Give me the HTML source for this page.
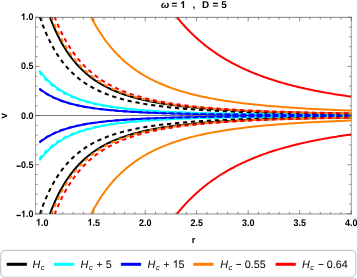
<!DOCTYPE html>
<html><head><meta charset="utf-8"><style>
html,body{margin:0;padding:0;background:#fff;}
svg{display:block;will-change:transform;}
text{text-rendering:geometricPrecision;font-family:"Liberation Sans",sans-serif;fill:#000;}
.tl{font-size:9px;font-weight:bold;}
.tt{font-size:9.3px;font-weight:bold;}
.lg{font-size:10.8px;fill:#000;}
</style></head><body>
<svg width="357" height="278" viewBox="0 0 357 278">
<rect x="0" y="0" width="357" height="278" fill="#ffffff"/>
<line x1="35.5" y1="115.5" x2="351.35" y2="115.5" stroke="#787878" stroke-width="1"/>
<g stroke-linecap="butt" stroke-linejoin="round">
<path d="M49.96 17.30L50.15 17.79L50.48 18.67L50.92 19.80L51.43 21.11L52.02 22.57L52.67 24.15L53.37 25.83L54.12 27.59L54.93 29.41L55.78 31.28L56.67 33.18L57.60 35.12L58.58 37.07L59.59 39.04L60.64 41.01L61.73 42.97L62.85 44.92L64.00 46.86L65.19 48.79L66.40 50.68L67.65 52.56L68.93 54.40L70.24 56.21L71.58 57.99L72.94 59.74L74.33 61.44L75.75 63.11L77.20 64.75L78.67 66.34L80.17 67.89L81.69 69.40L83.24 70.87L84.81 72.30L86.41 73.69L88.03 75.05L89.67 76.36L91.33 77.63L93.02 78.87L94.73 80.06L96.47 81.22L98.22 82.35L100.00 83.44L101.79 84.49L103.61 85.51L105.45 86.49L107.31 87.45L109.19 88.37L111.09 89.26L113.01 90.12L114.95 90.96L116.91 91.76L118.89 92.54L120.89 93.29L122.91 94.01L124.94 94.71L127.00 95.39L129.07 96.04L131.16 96.67L133.27 97.28L135.39 97.87L137.54 98.44L139.70 98.99L141.88 99.51L144.08 100.02L146.29 100.52L148.52 100.99L150.77 101.45L153.04 101.90L155.32 102.32L157.62 102.74L159.93 103.14L162.26 103.52L164.61 103.89L166.98 104.25L169.36 104.60L171.75 104.93L174.16 105.26L176.59 105.57L179.03 105.87L181.49 106.16L183.97 106.45L186.46 106.72L188.96 106.98L191.48 107.23L194.01 107.48L196.56 107.72L199.13 107.95L201.71 108.17L204.30 108.38L206.91 108.59L209.53 108.79L212.17 108.99L214.82 109.17L217.49 109.35L220.17 109.53L222.86 109.70L225.57 109.86L228.29 110.02L231.03 110.18L233.78 110.33L236.54 110.47L239.32 110.61L242.11 110.75L244.92 110.88L247.74 111.00L250.57 111.13L253.42 111.25L256.27 111.36L259.15 111.47L262.03 111.58L264.93 111.69L267.84 111.79L270.77 111.89L273.70 111.98L276.65 112.08L279.62 112.17L282.59 112.25L285.58 112.34L288.58 112.42L291.60 112.50L294.62 112.58L297.66 112.65L300.71 112.72L303.78 112.79L306.86 112.86L309.94 112.93L313.05 112.99L316.16 113.06L319.28 113.12L322.42 113.18L325.57 113.24L328.73 113.29L331.91 113.35L335.09 113.40L338.29 113.45L341.50 113.50L344.72 113.55L347.96 113.60L351.20 113.64" stroke="#000000" stroke-width="2.0" fill="none"/>
<path d="M49.96 213.80L50.15 213.31L50.48 212.43L50.92 211.30L51.43 209.99L52.02 208.53L52.67 206.95L53.37 205.27L54.12 203.51L54.93 201.69L55.78 199.82L56.67 197.92L57.60 195.98L58.58 194.03L59.59 192.06L60.64 190.09L61.73 188.13L62.85 186.18L64.00 184.24L65.19 182.31L66.40 180.42L67.65 178.54L68.93 176.70L70.24 174.89L71.58 173.11L72.94 171.36L74.33 169.66L75.75 167.99L77.20 166.35L78.67 164.76L80.17 163.21L81.69 161.70L83.24 160.23L84.81 158.80L86.41 157.41L88.03 156.05L89.67 154.74L91.33 153.47L93.02 152.23L94.73 151.04L96.47 149.88L98.22 148.75L100.00 147.66L101.79 146.61L103.61 145.59L105.45 144.61L107.31 143.65L109.19 142.73L111.09 141.84L113.01 140.98L114.95 140.14L116.91 139.34L118.89 138.56L120.89 137.81L122.91 137.09L124.94 136.39L127.00 135.71L129.07 135.06L131.16 134.43L133.27 133.82L135.39 133.23L137.54 132.66L139.70 132.11L141.88 131.59L144.08 131.08L146.29 130.58L148.52 130.11L150.77 129.65L153.04 129.20L155.32 128.78L157.62 128.36L159.93 127.96L162.26 127.58L164.61 127.21L166.98 126.85L169.36 126.50L171.75 126.17L174.16 125.84L176.59 125.53L179.03 125.23L181.49 124.94L183.97 124.65L186.46 124.38L188.96 124.12L191.48 123.87L194.01 123.62L196.56 123.38L199.13 123.15L201.71 122.93L204.30 122.72L206.91 122.51L209.53 122.31L212.17 122.11L214.82 121.93L217.49 121.75L220.17 121.57L222.86 121.40L225.57 121.24L228.29 121.08L231.03 120.92L233.78 120.77L236.54 120.63L239.32 120.49L242.11 120.35L244.92 120.22L247.74 120.10L250.57 119.97L253.42 119.85L256.27 119.74L259.15 119.63L262.03 119.52L264.93 119.41L267.84 119.31L270.77 119.21L273.70 119.12L276.65 119.02L279.62 118.93L282.59 118.85L285.58 118.76L288.58 118.68L291.60 118.60L294.62 118.52L297.66 118.45L300.71 118.38L303.78 118.31L306.86 118.24L309.94 118.17L313.05 118.11L316.16 118.04L319.28 117.98L322.42 117.92L325.57 117.86L328.73 117.81L331.91 117.75L335.09 117.70L338.29 117.65L341.50 117.60L344.72 117.55L347.96 117.50L351.20 117.46" stroke="#000000" stroke-width="2.0" fill="none"/>
<path d="M39.42 70.67L39.61 70.92L39.96 71.38L40.41 71.97L40.94 72.65L41.55 73.41L42.22 74.22L42.94 75.08L43.72 75.99L44.56 76.92L45.44 77.87L46.36 78.83L47.33 79.81L48.34 80.79L49.38 81.78L50.47 82.76L51.60 83.73L52.75 84.69L53.95 85.65L55.18 86.59L56.44 87.51L57.73 88.42L59.05 89.31L60.40 90.18L61.79 91.03L63.20 91.85L64.64 92.66L66.11 93.45L67.61 94.21L69.13 94.95L70.68 95.67L72.26 96.37L73.86 97.05L75.49 97.70L77.14 98.33L78.81 98.95L80.51 99.54L82.24 100.11L83.98 100.66L85.76 101.20L87.55 101.71L89.37 102.21L91.20 102.69L93.06 103.15L94.95 103.59L96.85 104.02L98.77 104.43L100.72 104.83L102.69 105.21L104.68 105.58L106.68 105.93L108.71 106.27L110.76 106.60L112.83 106.92L114.91 107.22L117.02 107.51L119.15 107.80L121.29 108.07L123.46 108.33L125.64 108.58L127.84 108.82L130.06 109.05L132.30 109.27L134.55 109.49L136.83 109.70L139.12 109.90L141.43 110.09L143.76 110.27L146.10 110.45L148.46 110.62L150.84 110.78L153.24 110.94L155.65 111.09L158.08 111.24L160.53 111.38L162.99 111.52L165.47 111.65L167.97 111.78L170.48 111.90L173.01 112.02L175.55 112.13L178.11 112.24L180.69 112.34L183.28 112.44L185.89 112.54L188.51 112.63L191.15 112.73L193.80 112.81L196.47 112.90L199.16 112.98L201.86 113.06L204.57 113.13L207.30 113.21L210.05 113.28L212.81 113.34L215.58 113.41L218.37 113.47L221.17 113.53L223.99 113.59L226.82 113.65L229.67 113.71L232.53 113.76L235.41 113.81L238.30 113.86L241.20 113.91L244.12 113.96L247.05 114.00L249.99 114.04L252.95 114.09L255.92 114.13L258.91 114.17L261.91 114.21L264.92 114.24L267.95 114.28L270.99 114.31L274.04 114.35L277.11 114.38L280.19 114.41L283.28 114.44L286.39 114.47L289.51 114.50L292.64 114.53L295.79 114.55L298.95 114.58L302.12 114.60L305.30 114.63L308.50 114.65L311.71 114.68L314.93 114.70L318.17 114.72L321.41 114.74L324.67 114.76L327.95 114.78L331.23 114.80L334.53 114.82L337.84 114.84L341.16 114.85L344.50 114.87L347.84 114.89L351.20 114.90" stroke="#00ffff" stroke-width="2.0" fill="none"/>
<path d="M39.42 160.43L39.61 160.18L39.96 159.72L40.41 159.13L40.94 158.45L41.55 157.69L42.22 156.88L42.94 156.02L43.72 155.11L44.56 154.18L45.44 153.23L46.36 152.27L47.33 151.29L48.34 150.31L49.38 149.32L50.47 148.34L51.60 147.37L52.75 146.41L53.95 145.45L55.18 144.51L56.44 143.59L57.73 142.68L59.05 141.79L60.40 140.92L61.79 140.07L63.20 139.25L64.64 138.44L66.11 137.65L67.61 136.89L69.13 136.15L70.68 135.43L72.26 134.73L73.86 134.05L75.49 133.40L77.14 132.77L78.81 132.15L80.51 131.56L82.24 130.99L83.98 130.44L85.76 129.90L87.55 129.39L89.37 128.89L91.20 128.41L93.06 127.95L94.95 127.51L96.85 127.08L98.77 126.67L100.72 126.27L102.69 125.89L104.68 125.52L106.68 125.17L108.71 124.83L110.76 124.50L112.83 124.18L114.91 123.88L117.02 123.59L119.15 123.30L121.29 123.03L123.46 122.77L125.64 122.52L127.84 122.28L130.06 122.05L132.30 121.83L134.55 121.61L136.83 121.40L139.12 121.20L141.43 121.01L143.76 120.83L146.10 120.65L148.46 120.48L150.84 120.32L153.24 120.16L155.65 120.01L158.08 119.86L160.53 119.72L162.99 119.58L165.47 119.45L167.97 119.32L170.48 119.20L173.01 119.08L175.55 118.97L178.11 118.86L180.69 118.76L183.28 118.66L185.89 118.56L188.51 118.47L191.15 118.37L193.80 118.29L196.47 118.20L199.16 118.12L201.86 118.04L204.57 117.97L207.30 117.89L210.05 117.82L212.81 117.76L215.58 117.69L218.37 117.63L221.17 117.57L223.99 117.51L226.82 117.45L229.67 117.39L232.53 117.34L235.41 117.29L238.30 117.24L241.20 117.19L244.12 117.14L247.05 117.10L249.99 117.06L252.95 117.01L255.92 116.97L258.91 116.93L261.91 116.89L264.92 116.86L267.95 116.82L270.99 116.79L274.04 116.75L277.11 116.72L280.19 116.69L283.28 116.66L286.39 116.63L289.51 116.60L292.64 116.57L295.79 116.55L298.95 116.52L302.12 116.50L305.30 116.47L308.50 116.45L311.71 116.42L314.93 116.40L318.17 116.38L321.41 116.36L324.67 116.34L327.95 116.32L331.23 116.30L334.53 116.28L337.84 116.26L341.16 116.25L344.50 116.23L347.84 116.21L351.20 116.20" stroke="#00ffff" stroke-width="2.0" fill="none"/>
<path d="M39.42 88.59L39.61 88.74L39.96 89.02L40.41 89.37L40.94 89.78L41.55 90.23L42.22 90.72L42.94 91.24L43.72 91.78L44.56 92.34L45.44 92.91L46.36 93.49L47.33 94.08L48.34 94.67L49.38 95.26L50.47 95.85L51.60 96.43L52.75 97.01L53.95 97.59L55.18 98.15L56.44 98.71L57.73 99.25L59.05 99.78L60.40 100.31L61.79 100.82L63.20 101.31L64.64 101.80L66.11 102.27L67.61 102.73L69.13 103.18L70.68 103.61L72.26 104.03L73.86 104.43L75.49 104.83L77.14 105.21L78.81 105.58L80.51 105.93L82.24 106.28L83.98 106.61L85.76 106.93L87.55 107.24L89.37 107.53L91.20 107.82L93.06 108.10L94.95 108.37L96.85 108.62L98.77 108.87L100.72 109.11L102.69 109.34L104.68 109.56L106.68 109.77L108.71 109.98L110.76 110.17L112.83 110.36L114.91 110.55L117.02 110.72L119.15 110.89L121.29 111.05L123.46 111.21L125.64 111.36L127.84 111.51L130.06 111.65L132.30 111.78L134.55 111.91L136.83 112.03L139.12 112.15L141.43 112.27L143.76 112.38L146.10 112.49L148.46 112.59L150.84 112.69L153.24 112.78L155.65 112.87L158.08 112.96L160.53 113.05L162.99 113.13L165.47 113.21L167.97 113.28L170.48 113.36L173.01 113.43L175.55 113.49L178.11 113.56L180.69 113.62L183.28 113.68L185.89 113.74L188.51 113.80L191.15 113.85L193.80 113.91L196.47 113.96L199.16 114.01L201.86 114.05L204.57 114.10L207.30 114.14L210.05 114.18L212.81 114.22L215.58 114.26L218.37 114.30L221.17 114.34L223.99 114.37L226.82 114.41L229.67 114.44L232.53 114.47L235.41 114.51L238.30 114.54L241.20 114.56L244.12 114.59L247.05 114.62L249.99 114.65L252.95 114.67L255.92 114.70L258.91 114.72L261.91 114.74L264.92 114.76L267.95 114.79L270.99 114.81L274.04 114.83L277.11 114.85L280.19 114.87L283.28 114.88L286.39 114.90L289.51 114.92L292.64 114.94L295.79 114.95L298.95 114.97L302.12 114.98L305.30 115.00L308.50 115.01L311.71 115.02L314.93 115.04L318.17 115.05L321.41 115.06L324.67 115.08L327.95 115.09L331.23 115.10L334.53 115.11L337.84 115.12L341.16 115.13L344.50 115.14L347.84 115.15L351.20 115.16" stroke="#0000ff" stroke-width="2.0" fill="none"/>
<path d="M39.42 142.51L39.61 142.36L39.96 142.08L40.41 141.73L40.94 141.32L41.55 140.87L42.22 140.38L42.94 139.86L43.72 139.32L44.56 138.76L45.44 138.19L46.36 137.61L47.33 137.02L48.34 136.43L49.38 135.84L50.47 135.25L51.60 134.67L52.75 134.09L53.95 133.51L55.18 132.95L56.44 132.39L57.73 131.85L59.05 131.32L60.40 130.79L61.79 130.28L63.20 129.79L64.64 129.30L66.11 128.83L67.61 128.37L69.13 127.92L70.68 127.49L72.26 127.07L73.86 126.67L75.49 126.27L77.14 125.89L78.81 125.52L80.51 125.17L82.24 124.82L83.98 124.49L85.76 124.17L87.55 123.86L89.37 123.57L91.20 123.28L93.06 123.00L94.95 122.73L96.85 122.48L98.77 122.23L100.72 121.99L102.69 121.76L104.68 121.54L106.68 121.33L108.71 121.12L110.76 120.93L112.83 120.74L114.91 120.55L117.02 120.38L119.15 120.21L121.29 120.05L123.46 119.89L125.64 119.74L127.84 119.59L130.06 119.45L132.30 119.32L134.55 119.19L136.83 119.07L139.12 118.95L141.43 118.83L143.76 118.72L146.10 118.61L148.46 118.51L150.84 118.41L153.24 118.32L155.65 118.23L158.08 118.14L160.53 118.05L162.99 117.97L165.47 117.89L167.97 117.82L170.48 117.74L173.01 117.67L175.55 117.61L178.11 117.54L180.69 117.48L183.28 117.42L185.89 117.36L188.51 117.30L191.15 117.25L193.80 117.19L196.47 117.14L199.16 117.09L201.86 117.05L204.57 117.00L207.30 116.96L210.05 116.92L212.81 116.88L215.58 116.84L218.37 116.80L221.17 116.76L223.99 116.73L226.82 116.69L229.67 116.66L232.53 116.63L235.41 116.59L238.30 116.56L241.20 116.54L244.12 116.51L247.05 116.48L249.99 116.45L252.95 116.43L255.92 116.40L258.91 116.38L261.91 116.36L264.92 116.34L267.95 116.31L270.99 116.29L274.04 116.27L277.11 116.25L280.19 116.23L283.28 116.22L286.39 116.20L289.51 116.18L292.64 116.16L295.79 116.15L298.95 116.13L302.12 116.12L305.30 116.10L308.50 116.09L311.71 116.08L314.93 116.06L318.17 116.05L321.41 116.04L324.67 116.02L327.95 116.01L331.23 116.00L334.53 115.99L337.84 115.98L341.16 115.97L344.50 115.96L347.84 115.95L351.20 115.94" stroke="#0000ff" stroke-width="2.0" fill="none"/>
<path d="M91.26 17.30L91.42 17.61L91.71 18.16L92.08 18.88L92.53 19.72L93.03 20.66L93.59 21.68L94.20 22.78L94.85 23.94L95.54 25.16L96.27 26.42L97.04 27.71L97.85 29.05L98.69 30.41L99.57 31.79L100.47 33.20L101.41 34.62L102.38 36.05L103.37 37.48L104.39 38.92L105.44 40.37L106.52 41.81L107.63 43.25L108.75 44.68L109.91 46.11L111.08 47.53L112.29 48.94L113.51 50.33L114.76 51.71L116.03 53.08L117.32 54.43L118.64 55.76L119.97 57.07L121.33 58.37L122.70 59.65L124.10 60.91L125.52 62.14L126.96 63.36L128.41 64.56L129.89 65.73L131.39 66.89L132.90 68.02L134.43 69.13L135.98 70.22L137.55 71.29L139.14 72.33L140.74 73.36L142.37 74.36L144.01 75.34L145.66 76.30L147.34 77.24L149.03 78.16L150.74 79.06L152.46 79.94L154.20 80.79L155.96 81.63L157.73 82.45L159.52 83.25L161.32 84.03L163.14 84.79L164.98 85.54L166.83 86.26L168.69 86.97L170.57 87.66L172.47 88.34L174.38 88.99L176.31 89.64L178.25 90.26L180.20 90.87L182.17 91.47L184.15 92.05L186.15 92.61L188.16 93.17L190.19 93.70L192.23 94.23L194.28 94.74L196.35 95.24L198.43 95.72L200.53 96.19L202.63 96.66L204.76 97.10L206.89 97.54L209.04 97.97L211.20 98.38L213.37 98.79L215.56 99.18L217.76 99.57L219.97 99.94L222.20 100.31L224.44 100.67L226.69 101.01L228.95 101.35L231.23 101.68L233.52 102.00L235.82 102.31L238.13 102.62L240.46 102.92L242.79 103.21L245.14 103.49L247.50 103.76L249.88 104.03L252.26 104.29L254.66 104.55L257.07 104.79L259.49 105.04L261.92 105.27L264.36 105.50L266.82 105.73L269.29 105.95L271.76 106.16L274.25 106.37L276.76 106.57L279.27 106.77L281.79 106.96L284.33 107.15L286.87 107.33L289.43 107.51L292.00 107.68L294.58 107.85L297.17 108.02L299.77 108.18L302.38 108.34L305.00 108.49L307.64 108.64L310.28 108.79L312.93 108.93L315.60 109.07L318.28 109.21L320.96 109.34L323.66 109.47L326.37 109.60L329.08 109.72L331.81 109.84L334.55 109.96L337.30 110.08L340.06 110.19L342.83 110.30L345.61 110.40L348.40 110.51L351.20 110.61" stroke="#ff8000" stroke-width="2.0" fill="none"/>
<path d="M91.26 213.80L91.42 213.49L91.71 212.94L92.08 212.22L92.53 211.38L93.03 210.44L93.59 209.42L94.20 208.32L94.85 207.16L95.54 205.94L96.27 204.68L97.04 203.39L97.85 202.05L98.69 200.69L99.57 199.31L100.47 197.90L101.41 196.48L102.38 195.05L103.37 193.62L104.39 192.18L105.44 190.73L106.52 189.29L107.63 187.85L108.75 186.42L109.91 184.99L111.08 183.57L112.29 182.16L113.51 180.77L114.76 179.39L116.03 178.02L117.32 176.67L118.64 175.34L119.97 174.03L121.33 172.73L122.70 171.45L124.10 170.19L125.52 168.96L126.96 167.74L128.41 166.54L129.89 165.37L131.39 164.21L132.90 163.08L134.43 161.97L135.98 160.88L137.55 159.81L139.14 158.77L140.74 157.74L142.37 156.74L144.01 155.76L145.66 154.80L147.34 153.86L149.03 152.94L150.74 152.04L152.46 151.16L154.20 150.31L155.96 149.47L157.73 148.65L159.52 147.85L161.32 147.07L163.14 146.31L164.98 145.56L166.83 144.84L168.69 144.13L170.57 143.44L172.47 142.76L174.38 142.11L176.31 141.46L178.25 140.84L180.20 140.23L182.17 139.63L184.15 139.05L186.15 138.49L188.16 137.93L190.19 137.40L192.23 136.87L194.28 136.36L196.35 135.86L198.43 135.38L200.53 134.91L202.63 134.44L204.76 134.00L206.89 133.56L209.04 133.13L211.20 132.72L213.37 132.31L215.56 131.92L217.76 131.53L219.97 131.16L222.20 130.79L224.44 130.43L226.69 130.09L228.95 129.75L231.23 129.42L233.52 129.10L235.82 128.79L238.13 128.48L240.46 128.18L242.79 127.89L245.14 127.61L247.50 127.34L249.88 127.07L252.26 126.81L254.66 126.55L257.07 126.31L259.49 126.06L261.92 125.83L264.36 125.60L266.82 125.37L269.29 125.15L271.76 124.94L274.25 124.73L276.76 124.53L279.27 124.33L281.79 124.14L284.33 123.95L286.87 123.77L289.43 123.59L292.00 123.42L294.58 123.25L297.17 123.08L299.77 122.92L302.38 122.76L305.00 122.61L307.64 122.46L310.28 122.31L312.93 122.17L315.60 122.03L318.28 121.89L320.96 121.76L323.66 121.63L326.37 121.50L329.08 121.38L331.81 121.26L334.55 121.14L337.30 121.02L340.06 120.91L342.83 120.80L345.61 120.70L348.40 120.59L351.20 120.49" stroke="#ff8000" stroke-width="2.0" fill="none"/>
<path d="M177.02 17.30L177.13 17.43L177.32 17.67L177.57 17.98L177.87 18.35L178.21 18.76L178.58 19.21L178.99 19.70L179.42 20.22L179.89 20.77L180.38 21.35L180.90 21.95L181.44 22.58L182.00 23.22L182.59 23.89L183.19 24.57L183.82 25.27L184.47 25.98L185.14 26.71L185.82 27.45L186.53 28.20L187.25 28.96L187.99 29.73L188.74 30.51L189.52 31.29L190.30 32.08L191.11 32.88L191.93 33.68L192.77 34.49L193.62 35.30L194.48 36.12L195.36 36.93L196.26 37.75L197.17 38.57L198.09 39.39L199.03 40.21L199.98 41.03L200.94 41.85L201.92 42.67L202.91 43.49L203.91 44.30L204.92 45.11L205.95 45.93L206.99 46.73L208.04 47.54L209.10 48.34L210.18 49.14L211.27 49.93L212.37 50.72L213.48 51.50L214.60 52.28L215.73 53.05L216.87 53.82L218.03 54.59L219.20 55.35L220.37 56.10L221.56 56.85L222.76 57.59L223.97 58.32L225.19 59.05L226.42 59.77L227.66 60.49L228.91 61.20L230.17 61.90L231.44 62.60L232.72 63.29L234.01 63.97L235.31 64.65L236.62 65.32L237.94 65.98L239.27 66.64L240.61 67.29L241.95 67.93L243.31 68.56L244.68 69.19L246.05 69.81L247.44 70.43L248.83 71.03L250.24 71.63L251.65 72.23L253.07 72.81L254.50 73.39L255.94 73.96L257.39 74.53L258.85 75.09L260.31 75.64L261.79 76.18L263.27 76.72L264.76 77.25L266.26 77.78L267.77 78.29L269.28 78.81L270.81 79.31L272.34 79.81L273.88 80.30L275.43 80.78L276.99 81.26L278.56 81.74L280.13 82.20L281.72 82.66L283.31 83.12L284.90 83.56L286.51 84.01L288.12 84.44L289.75 84.87L291.38 85.30L293.01 85.71L294.66 86.13L296.31 86.53L297.97 86.93L299.64 87.33L301.32 87.72L303.00 88.10L304.69 88.48L306.39 88.86L308.10 89.23L309.81 89.59L311.53 89.95L313.26 90.30L314.99 90.65L316.74 90.99L318.49 91.33L320.24 91.66L322.01 91.99L323.78 92.32L325.56 92.64L327.35 92.95L329.14 93.26L330.94 93.57L332.75 93.87L334.56 94.17L336.38 94.46L338.21 94.75L340.04 95.03L341.89 95.31L343.74 95.59L345.59 95.86L347.45 96.13L349.32 96.39L351.20 96.65" stroke="#ff0000" stroke-width="2.0" fill="none"/>
<path d="M177.02 213.80L177.13 213.67L177.32 213.43L177.57 213.12L177.87 212.75L178.21 212.34L178.58 211.89L178.99 211.40L179.42 210.88L179.89 210.33L180.38 209.75L180.90 209.15L181.44 208.52L182.00 207.88L182.59 207.21L183.19 206.53L183.82 205.83L184.47 205.12L185.14 204.39L185.82 203.65L186.53 202.90L187.25 202.14L187.99 201.37L188.74 200.59L189.52 199.81L190.30 199.02L191.11 198.22L191.93 197.42L192.77 196.61L193.62 195.80L194.48 194.98L195.36 194.17L196.26 193.35L197.17 192.53L198.09 191.71L199.03 190.89L199.98 190.07L200.94 189.25L201.92 188.43L202.91 187.61L203.91 186.80L204.92 185.99L205.95 185.17L206.99 184.37L208.04 183.56L209.10 182.76L210.18 181.96L211.27 181.17L212.37 180.38L213.48 179.60L214.60 178.82L215.73 178.05L216.87 177.28L218.03 176.51L219.20 175.75L220.37 175.00L221.56 174.25L222.76 173.51L223.97 172.78L225.19 172.05L226.42 171.33L227.66 170.61L228.91 169.90L230.17 169.20L231.44 168.50L232.72 167.81L234.01 167.13L235.31 166.45L236.62 165.78L237.94 165.12L239.27 164.46L240.61 163.81L241.95 163.17L243.31 162.54L244.68 161.91L246.05 161.29L247.44 160.67L248.83 160.07L250.24 159.47L251.65 158.87L253.07 158.29L254.50 157.71L255.94 157.14L257.39 156.57L258.85 156.01L260.31 155.46L261.79 154.92L263.27 154.38L264.76 153.85L266.26 153.32L267.77 152.81L269.28 152.29L270.81 151.79L272.34 151.29L273.88 150.80L275.43 150.32L276.99 149.84L278.56 149.36L280.13 148.90L281.72 148.44L283.31 147.98L284.90 147.54L286.51 147.09L288.12 146.66L289.75 146.23L291.38 145.80L293.01 145.39L294.66 144.97L296.31 144.57L297.97 144.17L299.64 143.77L301.32 143.38L303.00 143.00L304.69 142.62L306.39 142.24L308.10 141.87L309.81 141.51L311.53 141.15L313.26 140.80L314.99 140.45L316.74 140.11L318.49 139.77L320.24 139.44L322.01 139.11L323.78 138.78L325.56 138.46L327.35 138.15L329.14 137.84L330.94 137.53L332.75 137.23L334.56 136.93L336.38 136.64L338.21 136.35L340.04 136.07L341.89 135.79L343.74 135.51L345.59 135.24L347.45 134.97L349.32 134.71L351.20 134.45" stroke="#ff0000" stroke-width="2.0" fill="none"/>
<path d="M39.98 17.30L40.16 17.85L40.51 18.85L40.96 20.13L41.49 21.61L42.10 23.26L42.77 25.03L43.49 26.91L44.27 28.87L45.10 30.89L45.98 32.96L46.90 35.07L47.87 37.19L48.88 39.33L49.92 41.47L51.01 43.61L52.13 45.73L53.29 47.83L54.48 49.91L55.70 51.96L56.96 53.98L58.25 55.96L59.57 57.90L60.92 59.80L62.30 61.65L63.71 63.46L65.15 65.23L66.62 66.94L68.11 68.61L69.63 70.24L71.18 71.81L72.75 73.34L74.35 74.82L75.98 76.25L77.63 77.64L79.30 78.98L81.00 80.28L82.72 81.53L84.46 82.74L86.23 83.91L88.02 85.04L89.83 86.13L91.67 87.18L93.52 88.19L95.40 89.17L97.30 90.11L99.23 91.01L101.17 91.88L103.13 92.73L105.11 93.53L107.12 94.31L109.14 95.06L111.19 95.78L113.25 96.48L115.34 97.15L117.44 97.79L119.56 98.41L121.70 99.01L123.86 99.58L126.04 100.13L128.24 100.67L130.45 101.18L132.69 101.67L134.94 102.14L137.21 102.60L139.50 103.04L141.80 103.46L144.13 103.87L146.47 104.26L148.82 104.63L151.20 105.00L153.59 105.35L156.00 105.68L158.43 106.01L160.87 106.32L163.33 106.62L165.80 106.91L168.29 107.19L170.80 107.46L173.33 107.71L175.86 107.96L178.42 108.20L180.99 108.44L183.58 108.66L186.18 108.88L188.80 109.08L191.44 109.28L194.09 109.48L196.75 109.66L199.43 109.84L202.12 110.02L204.83 110.19L207.56 110.35L210.30 110.50L213.05 110.65L215.82 110.80L218.61 110.94L221.41 111.08L224.22 111.21L227.05 111.33L229.89 111.46L232.74 111.57L235.61 111.69L238.50 111.80L241.39 111.91L244.31 112.01L247.23 112.11L250.17 112.21L253.13 112.30L256.09 112.39L259.07 112.48L262.07 112.56L265.08 112.64L268.10 112.72L271.13 112.80L274.18 112.87L277.24 112.95L280.32 113.02L283.41 113.08L286.51 113.15L289.62 113.21L292.75 113.27L295.89 113.33L299.04 113.39L302.21 113.45L305.39 113.50L308.58 113.55L311.78 113.61L315.00 113.66L318.23 113.70L321.47 113.75L324.72 113.80L327.99 113.84L331.27 113.88L334.56 113.92L337.86 113.96L341.18 114.00L344.51 114.04L347.85 114.08L351.20 114.11" stroke="#000000" stroke-width="2.0" fill="none" stroke-dasharray="4.2 3.79" stroke-dashoffset="0.3"/>
<path d="M39.98 213.80L40.16 213.25L40.51 212.25L40.96 210.97L41.49 209.49L42.10 207.84L42.77 206.07L43.49 204.19L44.27 202.23L45.10 200.21L45.98 198.14L46.90 196.03L47.87 193.91L48.88 191.77L49.92 189.63L51.01 187.49L52.13 185.37L53.29 183.27L54.48 181.19L55.70 179.14L56.96 177.12L58.25 175.14L59.57 173.20L60.92 171.30L62.30 169.45L63.71 167.64L65.15 165.87L66.62 164.16L68.11 162.49L69.63 160.86L71.18 159.29L72.75 157.76L74.35 156.28L75.98 154.85L77.63 153.46L79.30 152.12L81.00 150.82L82.72 149.57L84.46 148.36L86.23 147.19L88.02 146.06L89.83 144.97L91.67 143.92L93.52 142.91L95.40 141.93L97.30 140.99L99.23 140.09L101.17 139.22L103.13 138.37L105.11 137.57L107.12 136.79L109.14 136.04L111.19 135.32L113.25 134.62L115.34 133.95L117.44 133.31L119.56 132.69L121.70 132.09L123.86 131.52L126.04 130.97L128.24 130.43L130.45 129.92L132.69 129.43L134.94 128.96L137.21 128.50L139.50 128.06L141.80 127.64L144.13 127.23L146.47 126.84L148.82 126.47L151.20 126.10L153.59 125.75L156.00 125.42L158.43 125.09L160.87 124.78L163.33 124.48L165.80 124.19L168.29 123.91L170.80 123.64L173.33 123.39L175.86 123.14L178.42 122.90L180.99 122.66L183.58 122.44L186.18 122.22L188.80 122.02L191.44 121.82L194.09 121.62L196.75 121.44L199.43 121.26L202.12 121.08L204.83 120.91L207.56 120.75L210.30 120.60L213.05 120.45L215.82 120.30L218.61 120.16L221.41 120.02L224.22 119.89L227.05 119.77L229.89 119.64L232.74 119.53L235.61 119.41L238.50 119.30L241.39 119.19L244.31 119.09L247.23 118.99L250.17 118.89L253.13 118.80L256.09 118.71L259.07 118.62L262.07 118.54L265.08 118.46L268.10 118.38L271.13 118.30L274.18 118.23L277.24 118.15L280.32 118.08L283.41 118.02L286.51 117.95L289.62 117.89L292.75 117.83L295.89 117.77L299.04 117.71L302.21 117.65L305.39 117.60L308.58 117.55L311.78 117.49L315.00 117.44L318.23 117.40L321.47 117.35L324.72 117.30L327.99 117.26L331.27 117.22L334.56 117.18L337.86 117.14L341.18 117.10L344.51 117.06L347.85 117.02L351.20 116.99" stroke="#000000" stroke-width="2.0" fill="none" stroke-dasharray="4.2 3.79" stroke-dashoffset="0.3"/>
<path d="M39.42 72.51L39.61 72.75L39.96 73.19L40.41 73.76L40.94 74.41L41.55 75.13L42.22 75.92L42.94 76.74L43.72 77.61L44.56 78.50L45.44 79.41L46.36 80.34L47.33 81.28L48.34 82.22L49.38 83.16L50.47 84.10L51.60 85.03L52.75 85.96L53.95 86.87L55.18 87.77L56.44 88.66L57.73 89.53L59.05 90.38L60.40 91.22L61.79 92.03L63.20 92.83L64.64 93.60L66.11 94.35L67.61 95.09L69.13 95.80L70.68 96.49L72.26 97.16L73.86 97.81L75.49 98.43L77.14 99.04L78.81 99.63L80.51 100.20L82.24 100.74L83.98 101.27L85.76 101.79L87.55 102.28L89.37 102.75L91.20 103.21L93.06 103.66L94.95 104.08L96.85 104.49L98.77 104.89L100.72 105.27L102.69 105.63L104.68 105.99L106.68 106.33L108.71 106.65L110.76 106.97L112.83 107.27L114.91 107.56L117.02 107.84L119.15 108.11L121.29 108.37L123.46 108.62L125.64 108.86L127.84 109.10L130.06 109.32L132.30 109.53L134.55 109.74L136.83 109.94L139.12 110.13L141.43 110.31L143.76 110.49L146.10 110.66L148.46 110.82L150.84 110.98L153.24 111.13L155.65 111.28L158.08 111.42L160.53 111.55L162.99 111.68L165.47 111.81L167.97 111.93L170.48 112.05L173.01 112.16L175.55 112.27L178.11 112.37L180.69 112.47L183.28 112.57L185.89 112.66L188.51 112.75L191.15 112.84L193.80 112.92L196.47 113.01L199.16 113.08L201.86 113.16L204.57 113.23L207.30 113.30L210.05 113.37L212.81 113.43L215.58 113.50L218.37 113.56L221.17 113.62L223.99 113.67L226.82 113.73L229.67 113.78L232.53 113.83L235.41 113.88L238.30 113.93L241.20 113.98L244.12 114.02L247.05 114.06L249.99 114.11L252.95 114.15L255.92 114.19L258.91 114.22L261.91 114.26L264.92 114.30L267.95 114.33L270.99 114.36L274.04 114.40L277.11 114.43L280.19 114.46L283.28 114.49L286.39 114.51L289.51 114.54L292.64 114.57L295.79 114.59L298.95 114.62L302.12 114.64L305.30 114.67L308.50 114.69L311.71 114.71L314.93 114.73L318.17 114.75L321.41 114.77L324.67 114.79L327.95 114.81L331.23 114.83L334.53 114.85L337.84 114.87L341.16 114.88L344.50 114.90L347.84 114.92L351.20 114.93" stroke="#00ffff" stroke-width="2.0" fill="none" stroke-dasharray="4.2 3.79" stroke-dashoffset="0.6"/>
<path d="M39.42 158.59L39.61 158.35L39.96 157.91L40.41 157.34L40.94 156.69L41.55 155.97L42.22 155.18L42.94 154.36L43.72 153.49L44.56 152.60L45.44 151.69L46.36 150.76L47.33 149.82L48.34 148.88L49.38 147.94L50.47 147.00L51.60 146.07L52.75 145.14L53.95 144.23L55.18 143.33L56.44 142.44L57.73 141.57L59.05 140.72L60.40 139.88L61.79 139.07L63.20 138.27L64.64 137.50L66.11 136.75L67.61 136.01L69.13 135.30L70.68 134.61L72.26 133.94L73.86 133.29L75.49 132.67L77.14 132.06L78.81 131.47L80.51 130.90L82.24 130.36L83.98 129.83L85.76 129.31L87.55 128.82L89.37 128.35L91.20 127.89L93.06 127.44L94.95 127.02L96.85 126.61L98.77 126.21L100.72 125.83L102.69 125.47L104.68 125.11L106.68 124.77L108.71 124.45L110.76 124.13L112.83 123.83L114.91 123.54L117.02 123.26L119.15 122.99L121.29 122.73L123.46 122.48L125.64 122.24L127.84 122.00L130.06 121.78L132.30 121.57L134.55 121.36L136.83 121.16L139.12 120.97L141.43 120.79L143.76 120.61L146.10 120.44L148.46 120.28L150.84 120.12L153.24 119.97L155.65 119.82L158.08 119.68L160.53 119.55L162.99 119.42L165.47 119.29L167.97 119.17L170.48 119.05L173.01 118.94L175.55 118.83L178.11 118.73L180.69 118.63L183.28 118.53L185.89 118.44L188.51 118.35L191.15 118.26L193.80 118.18L196.47 118.09L199.16 118.02L201.86 117.94L204.57 117.87L207.30 117.80L210.05 117.73L212.81 117.67L215.58 117.60L218.37 117.54L221.17 117.48L223.99 117.43L226.82 117.37L229.67 117.32L232.53 117.27L235.41 117.22L238.30 117.17L241.20 117.12L244.12 117.08L247.05 117.04L249.99 116.99L252.95 116.95L255.92 116.91L258.91 116.88L261.91 116.84L264.92 116.80L267.95 116.77L270.99 116.74L274.04 116.70L277.11 116.67L280.19 116.64L283.28 116.61L286.39 116.59L289.51 116.56L292.64 116.53L295.79 116.51L298.95 116.48L302.12 116.46L305.30 116.43L308.50 116.41L311.71 116.39L314.93 116.37L318.17 116.35L321.41 116.33L324.67 116.31L327.95 116.29L331.23 116.27L334.53 116.25L337.84 116.23L341.16 116.22L344.50 116.20L347.84 116.18L351.20 116.17" stroke="#00ffff" stroke-width="2.0" fill="none" stroke-dasharray="4.2 3.79" stroke-dashoffset="0.6"/>
<path d="M39.42 89.00L39.61 89.15L39.96 89.42L40.41 89.77L40.94 90.18L41.55 90.62L42.22 91.11L42.94 91.62L43.72 92.15L44.56 92.70L45.44 93.26L46.36 93.83L47.33 94.41L48.34 94.99L49.38 95.57L50.47 96.15L51.60 96.73L52.75 97.30L53.95 97.86L55.18 98.42L56.44 98.97L57.73 99.50L59.05 100.03L60.40 100.54L61.79 101.04L63.20 101.53L64.64 102.01L66.11 102.48L67.61 102.93L69.13 103.37L70.68 103.79L72.26 104.21L73.86 104.61L75.49 104.99L77.14 105.37L78.81 105.73L80.51 106.08L82.24 106.42L83.98 106.75L85.76 107.06L87.55 107.36L89.37 107.66L91.20 107.94L93.06 108.21L94.95 108.48L96.85 108.73L98.77 108.97L100.72 109.21L102.69 109.43L104.68 109.65L106.68 109.86L108.71 110.06L110.76 110.26L112.83 110.44L114.91 110.62L117.02 110.80L119.15 110.96L121.29 111.12L123.46 111.28L125.64 111.43L127.84 111.57L130.06 111.71L132.30 111.84L134.55 111.97L136.83 112.09L139.12 112.21L141.43 112.32L143.76 112.43L146.10 112.53L148.46 112.63L150.84 112.73L153.24 112.82L155.65 112.91L158.08 113.00L160.53 113.09L162.99 113.17L165.47 113.24L167.97 113.32L170.48 113.39L173.01 113.46L175.55 113.53L178.11 113.59L180.69 113.65L183.28 113.71L185.89 113.77L188.51 113.83L191.15 113.88L193.80 113.93L196.47 113.98L199.16 114.03L201.86 114.08L204.57 114.12L207.30 114.16L210.05 114.21L212.81 114.25L215.58 114.28L218.37 114.32L221.17 114.36L223.99 114.39L226.82 114.43L229.67 114.46L232.53 114.49L235.41 114.52L238.30 114.55L241.20 114.58L244.12 114.61L247.05 114.63L249.99 114.66L252.95 114.68L255.92 114.71L258.91 114.73L261.91 114.75L264.92 114.78L267.95 114.80L270.99 114.82L274.04 114.84L277.11 114.86L280.19 114.88L283.28 114.89L286.39 114.91L289.51 114.93L292.64 114.94L295.79 114.96L298.95 114.98L302.12 114.99L305.30 115.01L308.50 115.02L311.71 115.03L314.93 115.05L318.17 115.06L321.41 115.07L324.67 115.08L327.95 115.10L331.23 115.11L334.53 115.12L337.84 115.13L341.16 115.14L344.50 115.15L347.84 115.16L351.20 115.17" stroke="#0000ff" stroke-width="2.0" fill="none" stroke-dasharray="4.2 3.79" stroke-dashoffset="0.6"/>
<path d="M39.42 142.10L39.61 141.95L39.96 141.68L40.41 141.33L40.94 140.92L41.55 140.48L42.22 139.99L42.94 139.48L43.72 138.95L44.56 138.40L45.44 137.84L46.36 137.27L47.33 136.69L48.34 136.11L49.38 135.53L50.47 134.95L51.60 134.37L52.75 133.80L53.95 133.24L55.18 132.68L56.44 132.13L57.73 131.60L59.05 131.07L60.40 130.56L61.79 130.06L63.20 129.57L64.64 129.09L66.11 128.62L67.61 128.17L69.13 127.73L70.68 127.31L72.26 126.89L73.86 126.49L75.49 126.11L77.14 125.73L78.81 125.37L80.51 125.02L82.24 124.68L83.98 124.35L85.76 124.04L87.55 123.74L89.37 123.44L91.20 123.16L93.06 122.89L94.95 122.62L96.85 122.37L98.77 122.13L100.72 121.89L102.69 121.67L104.68 121.45L106.68 121.24L108.71 121.04L110.76 120.84L112.83 120.66L114.91 120.48L117.02 120.30L119.15 120.14L121.29 119.98L123.46 119.82L125.64 119.67L127.84 119.53L130.06 119.39L132.30 119.26L134.55 119.13L136.83 119.01L139.12 118.89L141.43 118.78L143.76 118.67L146.10 118.57L148.46 118.47L150.84 118.37L153.24 118.28L155.65 118.19L158.08 118.10L160.53 118.01L162.99 117.93L165.47 117.86L167.97 117.78L170.48 117.71L173.01 117.64L175.55 117.57L178.11 117.51L180.69 117.45L183.28 117.39L185.89 117.33L188.51 117.27L191.15 117.22L193.80 117.17L196.47 117.12L199.16 117.07L201.86 117.02L204.57 116.98L207.30 116.94L210.05 116.89L212.81 116.85L215.58 116.82L218.37 116.78L221.17 116.74L223.99 116.71L226.82 116.67L229.67 116.64L232.53 116.61L235.41 116.58L238.30 116.55L241.20 116.52L244.12 116.49L247.05 116.47L249.99 116.44L252.95 116.42L255.92 116.39L258.91 116.37L261.91 116.35L264.92 116.32L267.95 116.30L270.99 116.28L274.04 116.26L277.11 116.24L280.19 116.22L283.28 116.21L286.39 116.19L289.51 116.17L292.64 116.16L295.79 116.14L298.95 116.12L302.12 116.11L305.30 116.09L308.50 116.08L311.71 116.07L314.93 116.05L318.17 116.04L321.41 116.03L324.67 116.02L327.95 116.00L331.23 115.99L334.53 115.98L337.84 115.97L341.16 115.96L344.50 115.95L347.84 115.94L351.20 115.93" stroke="#0000ff" stroke-width="2.0" fill="none" stroke-dasharray="4.2 3.79" stroke-dashoffset="0.6"/>
<path d="M51.67 17.30L51.85 17.78L52.18 18.64L52.62 19.75L53.13 21.03L53.71 22.47L54.35 24.02L55.05 25.66L55.80 27.39L56.60 29.18L57.45 31.01L58.34 32.89L59.27 34.80L60.24 36.72L61.24 38.66L62.29 40.60L63.37 42.53L64.48 44.46L65.63 46.38L66.81 48.28L68.02 50.16L69.26 52.01L70.53 53.84L71.83 55.64L73.16 57.40L74.51 59.14L75.90 60.83L77.31 62.49L78.75 64.12L80.21 65.70L81.70 67.25L83.22 68.76L84.75 70.22L86.32 71.65L87.90 73.04L89.51 74.40L91.15 75.71L92.80 76.98L94.48 78.22L96.18 79.42L97.91 80.59L99.65 81.71L101.42 82.81L103.21 83.87L105.01 84.89L106.84 85.88L108.69 86.84L110.56 87.77L112.45 88.67L114.36 89.54L116.29 90.38L118.24 91.20L120.21 91.98L122.19 92.74L124.20 93.47L126.22 94.18L128.26 94.87L130.32 95.53L132.40 96.17L134.50 96.79L136.61 97.38L138.75 97.96L140.90 98.52L143.06 99.05L145.25 99.57L147.45 100.07L149.67 100.56L151.91 101.03L154.16 101.48L156.43 101.91L158.71 102.34L161.02 102.74L163.33 103.14L165.67 103.52L168.02 103.88L170.38 104.24L172.77 104.58L175.17 104.91L177.58 105.23L180.01 105.54L182.45 105.84L184.91 106.13L187.39 106.41L189.88 106.68L192.38 106.94L194.90 107.19L197.44 107.43L199.99 107.67L202.55 107.90L205.13 108.12L207.73 108.33L210.33 108.54L212.96 108.74L215.59 108.93L218.24 109.12L220.91 109.30L223.59 109.47L226.28 109.64L228.99 109.81L231.71 109.97L234.44 110.12L237.19 110.27L239.96 110.41L242.73 110.55L245.52 110.69L248.32 110.82L251.14 110.95L253.97 111.07L256.81 111.19L259.67 111.30L262.54 111.42L265.42 111.52L268.31 111.63L271.22 111.73L274.14 111.83L277.08 111.93L280.02 112.02L282.98 112.11L285.95 112.20L288.94 112.28L291.93 112.37L294.94 112.45L297.97 112.52L301.00 112.60L304.05 112.67L307.11 112.74L310.18 112.81L313.26 112.88L316.36 112.94L319.46 113.01L322.58 113.07L325.72 113.13L328.86 113.19L332.02 113.24L335.18 113.30L338.36 113.35L341.56 113.40L344.76 113.45L347.97 113.50L351.20 113.55" stroke="#ff8000" stroke-width="2.0" fill="none" stroke-dasharray="4.2 3.79" stroke-dashoffset="0.8"/>
<path d="M51.67 213.80L51.85 213.32L52.18 212.46L52.62 211.35L53.13 210.07L53.71 208.63L54.35 207.08L55.05 205.44L55.80 203.71L56.60 201.92L57.45 200.09L58.34 198.21L59.27 196.30L60.24 194.38L61.24 192.44L62.29 190.50L63.37 188.57L64.48 186.64L65.63 184.72L66.81 182.82L68.02 180.94L69.26 179.09L70.53 177.26L71.83 175.46L73.16 173.70L74.51 171.96L75.90 170.27L77.31 168.61L78.75 166.98L80.21 165.40L81.70 163.85L83.22 162.34L84.75 160.88L86.32 159.45L87.90 158.06L89.51 156.70L91.15 155.39L92.80 154.12L94.48 152.88L96.18 151.68L97.91 150.51L99.65 149.39L101.42 148.29L103.21 147.23L105.01 146.21L106.84 145.22L108.69 144.26L110.56 143.33L112.45 142.43L114.36 141.56L116.29 140.72L118.24 139.90L120.21 139.12L122.19 138.36L124.20 137.63L126.22 136.92L128.26 136.23L130.32 135.57L132.40 134.93L134.50 134.31L136.61 133.72L138.75 133.14L140.90 132.58L143.06 132.05L145.25 131.53L147.45 131.03L149.67 130.54L151.91 130.07L154.16 129.62L156.43 129.19L158.71 128.76L161.02 128.36L163.33 127.96L165.67 127.58L168.02 127.22L170.38 126.86L172.77 126.52L175.17 126.19L177.58 125.87L180.01 125.56L182.45 125.26L184.91 124.97L187.39 124.69L189.88 124.42L192.38 124.16L194.90 123.91L197.44 123.67L199.99 123.43L202.55 123.20L205.13 122.98L207.73 122.77L210.33 122.56L212.96 122.36L215.59 122.17L218.24 121.98L220.91 121.80L223.59 121.63L226.28 121.46L228.99 121.29L231.71 121.13L234.44 120.98L237.19 120.83L239.96 120.69L242.73 120.55L245.52 120.41L248.32 120.28L251.14 120.15L253.97 120.03L256.81 119.91L259.67 119.80L262.54 119.68L265.42 119.58L268.31 119.47L271.22 119.37L274.14 119.27L277.08 119.17L280.02 119.08L282.98 118.99L285.95 118.90L288.94 118.82L291.93 118.73L294.94 118.65L297.97 118.58L301.00 118.50L304.05 118.43L307.11 118.36L310.18 118.29L313.26 118.22L316.36 118.16L319.46 118.09L322.58 118.03L325.72 117.97L328.86 117.91L332.02 117.86L335.18 117.80L338.36 117.75L341.56 117.70L344.76 117.65L347.97 117.60L351.20 117.55" stroke="#ff8000" stroke-width="2.0" fill="none" stroke-dasharray="4.2 3.79" stroke-dashoffset="0.8"/>
<path d="M54.81 17.30L54.99 17.76L55.33 18.59L55.75 19.66L56.26 20.90L56.84 22.28L57.47 23.78L58.16 25.37L58.91 27.04L59.70 28.77L60.53 30.55L61.41 32.37L62.33 34.22L63.29 36.09L64.29 37.98L65.32 39.87L66.39 41.76L67.49 43.64L68.63 45.52L69.79 47.38L70.99 49.22L72.22 51.04L73.48 52.84L74.76 54.61L76.08 56.34L77.42 58.05L78.79 59.73L80.19 61.37L81.61 62.98L83.06 64.55L84.53 66.09L86.03 67.59L87.55 69.05L89.10 70.47L90.67 71.86L92.26 73.21L93.88 74.52L95.52 75.80L97.18 77.04L98.86 78.25L100.57 79.42L102.29 80.55L104.04 81.65L105.81 82.72L107.60 83.76L109.41 84.76L111.24 85.73L113.09 86.67L114.96 87.59L116.85 88.47L118.76 89.32L120.68 90.15L122.63 90.95L124.60 91.72L126.58 92.47L128.58 93.20L130.60 93.90L132.64 94.58L134.70 95.23L136.78 95.86L138.87 96.48L140.98 97.07L143.11 97.64L145.25 98.19L147.41 98.73L149.59 99.25L151.79 99.75L154.00 100.23L156.23 100.70L158.47 101.15L160.73 101.59L163.01 102.01L165.31 102.42L167.62 102.81L169.94 103.19L172.28 103.56L174.64 103.92L177.01 104.26L179.40 104.59L181.81 104.92L184.22 105.23L186.66 105.53L189.11 105.82L191.57 106.10L194.05 106.38L196.54 106.64L199.05 106.90L201.58 107.14L204.11 107.38L206.67 107.61L209.23 107.84L211.81 108.06L214.41 108.27L217.02 108.47L219.64 108.67L222.28 108.86L224.93 109.04L227.59 109.22L230.27 109.39L232.96 109.56L235.67 109.72L238.39 109.88L241.12 110.03L243.87 110.18L246.63 110.32L249.40 110.46L252.19 110.60L254.99 110.73L257.80 110.86L260.63 110.98L263.47 111.10L266.32 111.21L269.18 111.32L272.06 111.43L274.95 111.54L277.85 111.64L280.77 111.74L283.70 111.84L286.64 111.93L289.59 112.02L292.56 112.11L295.53 112.19L298.52 112.28L301.53 112.36L304.54 112.44L307.57 112.51L310.61 112.59L313.66 112.66L316.72 112.73L319.80 112.80L322.89 112.86L325.98 112.93L329.10 112.99L332.22 113.05L335.35 113.11L338.50 113.17L341.66 113.22L344.83 113.28L348.01 113.33L351.20 113.38" stroke="#ff0000" stroke-width="2.0" fill="none" stroke-dasharray="4.2 3.79" stroke-dashoffset="0.8"/>
<path d="M54.81 213.80L54.99 213.34L55.33 212.51L55.75 211.44L56.26 210.20L56.84 208.82L57.47 207.32L58.16 205.73L58.91 204.06L59.70 202.33L60.53 200.55L61.41 198.73L62.33 196.88L63.29 195.01L64.29 193.12L65.32 191.23L66.39 189.34L67.49 187.46L68.63 185.58L69.79 183.72L70.99 181.88L72.22 180.06L73.48 178.26L74.76 176.49L76.08 174.76L77.42 173.05L78.79 171.37L80.19 169.73L81.61 168.12L83.06 166.55L84.53 165.01L86.03 163.51L87.55 162.05L89.10 160.63L90.67 159.24L92.26 157.89L93.88 156.58L95.52 155.30L97.18 154.06L98.86 152.85L100.57 151.68L102.29 150.55L104.04 149.45L105.81 148.38L107.60 147.34L109.41 146.34L111.24 145.37L113.09 144.43L114.96 143.51L116.85 142.63L118.76 141.78L120.68 140.95L122.63 140.15L124.60 139.38L126.58 138.63L128.58 137.90L130.60 137.20L132.64 136.52L134.70 135.87L136.78 135.24L138.87 134.62L140.98 134.03L143.11 133.46L145.25 132.91L147.41 132.37L149.59 131.85L151.79 131.35L154.00 130.87L156.23 130.40L158.47 129.95L160.73 129.51L163.01 129.09L165.31 128.68L167.62 128.29L169.94 127.91L172.28 127.54L174.64 127.18L177.01 126.84L179.40 126.51L181.81 126.18L184.22 125.87L186.66 125.57L189.11 125.28L191.57 125.00L194.05 124.72L196.54 124.46L199.05 124.20L201.58 123.96L204.11 123.72L206.67 123.49L209.23 123.26L211.81 123.04L214.41 122.83L217.02 122.63L219.64 122.43L222.28 122.24L224.93 122.06L227.59 121.88L230.27 121.71L232.96 121.54L235.67 121.38L238.39 121.22L241.12 121.07L243.87 120.92L246.63 120.78L249.40 120.64L252.19 120.50L254.99 120.37L257.80 120.24L260.63 120.12L263.47 120.00L266.32 119.89L269.18 119.78L272.06 119.67L274.95 119.56L277.85 119.46L280.77 119.36L283.70 119.26L286.64 119.17L289.59 119.08L292.56 118.99L295.53 118.91L298.52 118.82L301.53 118.74L304.54 118.66L307.57 118.59L310.61 118.51L313.66 118.44L316.72 118.37L319.80 118.30L322.89 118.24L325.98 118.17L329.10 118.11L332.22 118.05L335.35 117.99L338.50 117.93L341.66 117.88L344.83 117.82L348.01 117.77L351.20 117.72" stroke="#ff0000" stroke-width="2.0" fill="none" stroke-dasharray="4.2 3.79" stroke-dashoffset="0.8"/>
</g>
<g stroke-width="0.62" stroke-linecap="square"><line x1="35.5" y1="17.35" x2="351.35" y2="17.35" stroke="#383838"/><line x1="35.5" y1="213.95" x2="351.35" y2="213.95" stroke="#484848"/><line x1="35.5" y1="17.35" x2="35.5" y2="213.95" stroke="#707070"/><line x1="351.35" y1="17.35" x2="351.35" y2="213.95" stroke="#686868"/></g>
<g stroke="#484848" stroke-width="0.6">
<line x1="42.20" y1="213.95" x2="42.20" y2="210.05"/>
<line x1="42.20" y1="17.35" x2="42.20" y2="21.25"/>
<line x1="52.50" y1="213.95" x2="52.50" y2="211.75"/>
<line x1="52.50" y1="17.35" x2="52.50" y2="19.55"/>
<line x1="62.80" y1="213.95" x2="62.80" y2="211.75"/>
<line x1="62.80" y1="17.35" x2="62.80" y2="19.55"/>
<line x1="73.10" y1="213.95" x2="73.10" y2="211.75"/>
<line x1="73.10" y1="17.35" x2="73.10" y2="19.55"/>
<line x1="83.40" y1="213.95" x2="83.40" y2="211.75"/>
<line x1="83.40" y1="17.35" x2="83.40" y2="19.55"/>
<line x1="93.70" y1="213.95" x2="93.70" y2="210.05"/>
<line x1="93.70" y1="17.35" x2="93.70" y2="21.25"/>
<line x1="104.00" y1="213.95" x2="104.00" y2="211.75"/>
<line x1="104.00" y1="17.35" x2="104.00" y2="19.55"/>
<line x1="114.30" y1="213.95" x2="114.30" y2="211.75"/>
<line x1="114.30" y1="17.35" x2="114.30" y2="19.55"/>
<line x1="124.60" y1="213.95" x2="124.60" y2="211.75"/>
<line x1="124.60" y1="17.35" x2="124.60" y2="19.55"/>
<line x1="134.90" y1="213.95" x2="134.90" y2="211.75"/>
<line x1="134.90" y1="17.35" x2="134.90" y2="19.55"/>
<line x1="145.20" y1="213.95" x2="145.20" y2="210.05"/>
<line x1="145.20" y1="17.35" x2="145.20" y2="21.25"/>
<line x1="155.50" y1="213.95" x2="155.50" y2="211.75"/>
<line x1="155.50" y1="17.35" x2="155.50" y2="19.55"/>
<line x1="165.80" y1="213.95" x2="165.80" y2="211.75"/>
<line x1="165.80" y1="17.35" x2="165.80" y2="19.55"/>
<line x1="176.10" y1="213.95" x2="176.10" y2="211.75"/>
<line x1="176.10" y1="17.35" x2="176.10" y2="19.55"/>
<line x1="186.40" y1="213.95" x2="186.40" y2="211.75"/>
<line x1="186.40" y1="17.35" x2="186.40" y2="19.55"/>
<line x1="196.70" y1="213.95" x2="196.70" y2="210.05"/>
<line x1="196.70" y1="17.35" x2="196.70" y2="21.25"/>
<line x1="207.00" y1="213.95" x2="207.00" y2="211.75"/>
<line x1="207.00" y1="17.35" x2="207.00" y2="19.55"/>
<line x1="217.30" y1="213.95" x2="217.30" y2="211.75"/>
<line x1="217.30" y1="17.35" x2="217.30" y2="19.55"/>
<line x1="227.60" y1="213.95" x2="227.60" y2="211.75"/>
<line x1="227.60" y1="17.35" x2="227.60" y2="19.55"/>
<line x1="237.90" y1="213.95" x2="237.90" y2="211.75"/>
<line x1="237.90" y1="17.35" x2="237.90" y2="19.55"/>
<line x1="248.20" y1="213.95" x2="248.20" y2="210.05"/>
<line x1="248.20" y1="17.35" x2="248.20" y2="21.25"/>
<line x1="258.50" y1="213.95" x2="258.50" y2="211.75"/>
<line x1="258.50" y1="17.35" x2="258.50" y2="19.55"/>
<line x1="268.80" y1="213.95" x2="268.80" y2="211.75"/>
<line x1="268.80" y1="17.35" x2="268.80" y2="19.55"/>
<line x1="279.10" y1="213.95" x2="279.10" y2="211.75"/>
<line x1="279.10" y1="17.35" x2="279.10" y2="19.55"/>
<line x1="289.40" y1="213.95" x2="289.40" y2="211.75"/>
<line x1="289.40" y1="17.35" x2="289.40" y2="19.55"/>
<line x1="299.70" y1="213.95" x2="299.70" y2="210.05"/>
<line x1="299.70" y1="17.35" x2="299.70" y2="21.25"/>
<line x1="310.00" y1="213.95" x2="310.00" y2="211.75"/>
<line x1="310.00" y1="17.35" x2="310.00" y2="19.55"/>
<line x1="320.30" y1="213.95" x2="320.30" y2="211.75"/>
<line x1="320.30" y1="17.35" x2="320.30" y2="19.55"/>
<line x1="330.60" y1="213.95" x2="330.60" y2="211.75"/>
<line x1="330.60" y1="17.35" x2="330.60" y2="19.55"/>
<line x1="340.90" y1="213.95" x2="340.90" y2="211.75"/>
<line x1="340.90" y1="17.35" x2="340.90" y2="19.55"/>
<line x1="351.20" y1="213.95" x2="351.20" y2="210.05"/>
<line x1="351.20" y1="17.35" x2="351.20" y2="21.25"/>
<line x1="35.50" y1="213.80" x2="39.40" y2="213.80"/>
<line x1="351.35" y1="213.80" x2="347.45" y2="213.80"/>
<line x1="35.50" y1="203.97" x2="37.70" y2="203.97"/>
<line x1="351.35" y1="203.97" x2="349.15" y2="203.97"/>
<line x1="35.50" y1="194.15" x2="37.70" y2="194.15"/>
<line x1="351.35" y1="194.15" x2="349.15" y2="194.15"/>
<line x1="35.50" y1="184.32" x2="37.70" y2="184.32"/>
<line x1="351.35" y1="184.32" x2="349.15" y2="184.32"/>
<line x1="35.50" y1="174.50" x2="37.70" y2="174.50"/>
<line x1="351.35" y1="174.50" x2="349.15" y2="174.50"/>
<line x1="35.50" y1="164.68" x2="39.40" y2="164.68"/>
<line x1="351.35" y1="164.68" x2="347.45" y2="164.68"/>
<line x1="35.50" y1="154.85" x2="37.70" y2="154.85"/>
<line x1="351.35" y1="154.85" x2="349.15" y2="154.85"/>
<line x1="35.50" y1="145.03" x2="37.70" y2="145.03"/>
<line x1="351.35" y1="145.03" x2="349.15" y2="145.03"/>
<line x1="35.50" y1="135.20" x2="37.70" y2="135.20"/>
<line x1="351.35" y1="135.20" x2="349.15" y2="135.20"/>
<line x1="35.50" y1="125.38" x2="37.70" y2="125.38"/>
<line x1="351.35" y1="125.38" x2="349.15" y2="125.38"/>
<line x1="35.50" y1="115.55" x2="39.40" y2="115.55"/>
<line x1="351.35" y1="115.55" x2="347.45" y2="115.55"/>
<line x1="35.50" y1="105.72" x2="37.70" y2="105.72"/>
<line x1="351.35" y1="105.72" x2="349.15" y2="105.72"/>
<line x1="35.50" y1="95.90" x2="37.70" y2="95.90"/>
<line x1="351.35" y1="95.90" x2="349.15" y2="95.90"/>
<line x1="35.50" y1="86.07" x2="37.70" y2="86.07"/>
<line x1="351.35" y1="86.07" x2="349.15" y2="86.07"/>
<line x1="35.50" y1="76.25" x2="37.70" y2="76.25"/>
<line x1="351.35" y1="76.25" x2="349.15" y2="76.25"/>
<line x1="35.50" y1="66.42" x2="39.40" y2="66.42"/>
<line x1="351.35" y1="66.42" x2="347.45" y2="66.42"/>
<line x1="35.50" y1="56.60" x2="37.70" y2="56.60"/>
<line x1="351.35" y1="56.60" x2="349.15" y2="56.60"/>
<line x1="35.50" y1="46.77" x2="37.70" y2="46.77"/>
<line x1="351.35" y1="46.77" x2="349.15" y2="46.77"/>
<line x1="35.50" y1="36.95" x2="37.70" y2="36.95"/>
<line x1="351.35" y1="36.95" x2="349.15" y2="36.95"/>
<line x1="35.50" y1="27.12" x2="37.70" y2="27.12"/>
<line x1="351.35" y1="27.12" x2="349.15" y2="27.12"/>
<line x1="35.50" y1="17.30" x2="39.40" y2="17.30"/>
<line x1="351.35" y1="17.30" x2="347.45" y2="17.30"/>
</g>
<path transform="translate(35.95,225.50) scale(0.00900,0.00954)" d="M393.6 0L256.3 0L256.3 -517Q181 -447 79 -413L79 -537.6Q133 -555 196 -604Q259 -653 282 -719L393.6 -719Z" fill="#000"/><text transform="translate(40.95,225.50) scale(1,1.06)" class="tl">.0</text>
<path transform="translate(87.45,225.50) scale(0.00900,0.00954)" d="M393.6 0L256.3 0L256.3 -517Q181 -447 79 -413L79 -537.6Q133 -555 196 -604Q259 -653 282 -719L393.6 -719Z" fill="#000"/><text transform="translate(92.45,225.50) scale(1,1.06)" class="tl">.5</text>
<text transform="translate(138.94,225.50) scale(1,1.06)" class="tl">2.0</text>
<text transform="translate(190.44,225.50) scale(1,1.06)" class="tl">2.5</text>
<text transform="translate(241.94,225.50) scale(1,1.06)" class="tl">3.0</text>
<text transform="translate(293.44,225.50) scale(1,1.06)" class="tl">3.5</text>
<text transform="translate(344.94,225.50) scale(1,1.06)" class="tl">4.0</text>
<path transform="translate(20.89,20.12) scale(0.00900,0.00954)" d="M393.6 0L256.3 0L256.3 -517Q181 -447 79 -413L79 -537.6Q133 -555 196 -604Q259 -653 282 -719L393.6 -719Z" fill="#000"/><text transform="translate(25.89,20.12) scale(1,1.06)" class="tl">.0</text>
<text transform="translate(20.89,69.41) scale(1,1.06)" class="tl">0.5</text>
<text transform="translate(20.89,118.70) scale(1,1.06)" class="tl">0.0</text>
<rect x="16.49" y="165.54" width="4.3" height="1.3" fill="#000"/><text transform="translate(20.89,167.99) scale(1,1.06)" class="tl">0.5</text>
<rect x="16.49" y="214.83" width="4.3" height="1.3" fill="#000"/><path transform="translate(20.89,217.28) scale(0.00900,0.00954)" d="M393.6 0L256.3 0L256.3 -517Q181 -447 79 -413L79 -537.6Q133 -555 196 -604Q259 -653 282 -719L393.6 -719Z" fill="#000"/><text transform="translate(25.89,217.28) scale(1,1.06)" class="tl">.0</text>
<path transform="translate(180.20,8.10) scale(0.00990,0.00990)" d="M393.6 0L256.3 0L256.3 -517Q181 -447 79 -413L79 -537.6Q133 -555 196 -604Q259 -653 282 -719L393.6 -719Z" fill="#000"/><text class="tt" style="font-size:9.9px" y="8.1"><tspan x="160.9" font-style="italic">ω</tspan><tspan x="171.4">=</tspan><tspan x="192.6">,</tspan><tspan x="202.0">D</tspan><tspan x="212.6">=</tspan><tspan x="221.3">5</tspan></text>
<text class="tt" x="193.6" y="242.7" text-anchor="middle">r</text>
<text class="tt" transform="translate(6.75,115.7) rotate(-90) scale(1.06)" text-anchor="middle">v</text>
<rect x="0.7" y="250.4" width="355.1" height="26.9" rx="4.6" ry="4.6" fill="#ffffff" stroke="#c6c6c6" stroke-width="1.1"/>
<line x1="6.70" y1="264.30" x2="26.90" y2="264.30" stroke="#000000" stroke-width="3"/>
<text x="32.40" y="267.8" class="lg"><tspan font-style="italic">H</tspan><tspan font-style="italic" font-size="7.4" dy="1.7" dx="0.6">c</tspan></text>
<line x1="54.10" y1="264.30" x2="74.30" y2="264.30" stroke="#00ffff" stroke-width="3"/>
<text x="80.60" y="267.8" class="lg"><tspan font-style="italic">H</tspan><tspan font-style="italic" font-size="7.4" dy="1.7" dx="0.6">c</tspan></text>
<text transform="translate(96.60,267.80) scale(1,1.0)" class="lg">+</text>
<text transform="translate(105.80,267.80) scale(1,1.0)" class="lg">5</text>
<line x1="120.90" y1="264.30" x2="141.10" y2="264.30" stroke="#0000ff" stroke-width="3"/>
<text x="147.50" y="267.8" class="lg"><tspan font-style="italic">H</tspan><tspan font-style="italic" font-size="7.4" dy="1.7" dx="0.6">c</tspan></text>
<text transform="translate(163.20,267.80) scale(1,1.0)" class="lg">+</text>
<path transform="translate(172.60,267.80) scale(0.01080,0.01080)" d="M372.6 0L284.7 0L284.7 -560Q253 -530 201.4 -499.5Q150 -469 108.9 -454L108.9 -539Q182.6 -573.7 237.8 -623Q293 -672.4 316 -719L372.6 -719Z" fill="#000"/><text transform="translate(178.60,267.80) scale(1,1.0)" class="lg">5</text>
<line x1="193.30" y1="264.30" x2="213.50" y2="264.30" stroke="#ff8000" stroke-width="3"/>
<text x="220.20" y="267.8" class="lg"><tspan font-style="italic">H</tspan><tspan font-style="italic" font-size="7.4" dy="1.7" dx="0.6">c</tspan></text>
<rect x="236.30" y="263.95" width="4.9" height="0.95" fill="#111"/>
<text transform="translate(244.80,267.80) scale(1,1.0)" class="lg">0.55</text>
<line x1="275.60" y1="264.30" x2="295.80" y2="264.30" stroke="#ff0000" stroke-width="3"/>
<text x="301.90" y="267.8" class="lg"><tspan font-style="italic">H</tspan><tspan font-style="italic" font-size="7.4" dy="1.7" dx="0.6">c</tspan></text>
<rect x="318.50" y="263.95" width="4.9" height="0.95" fill="#111"/>
<text transform="translate(326.80,267.80) scale(1,1.0)" class="lg">0.64</text>
</svg>
</body></html>
